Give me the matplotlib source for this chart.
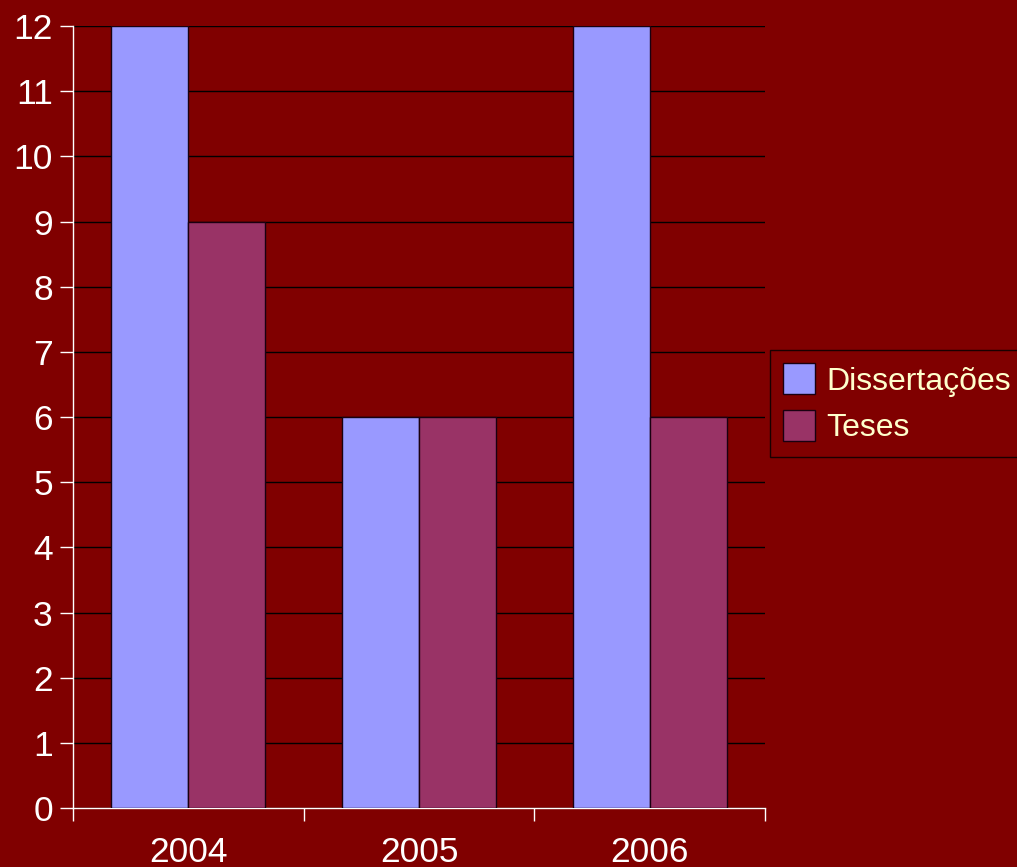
import numpy as np
import matplotlib.pyplot as plt

anos = ['2004', '2005', '2006']
dissertacoes = [12, 6, 12]
teses = [9, 6, 6]

bg = '#800000'
plt.rcParams['font.family'] = ['Liberation Sans', 'DejaVu Sans']

fig = plt.figure(figsize=(10.17, 8.67), dpi=100, facecolor=bg)
ax = fig.add_axes([73/1017, 59/867, 692/1017, 782/867])
ax.set_facecolor(bg)

x = np.arange(len(anos))
w = 1/3
ax.bar(x - w/2, dissertacoes, w, color='#9999FF', edgecolor='#1a0010', linewidth=1,
       label='Dissertações', zorder=3)
ax.bar(x + w/2, teses, w, color='#993366', edgecolor='#1a0010', linewidth=1,
       label='Teses', zorder=3)

ax.set_xlim(-0.5, 2.5)
ax.set_ylim(0, 12)
ax.set_yticks(range(0, 13))
ax.yaxis.grid(True, color='black', linewidth=1, zorder=0)
ax.set_axisbelow(True)

# category boundaries as major ticks, labels on minor ticks
ax.set_xticks([-0.5, 0.5, 1.5, 2.5])
ax.set_xticklabels([])
ax.set_xticks(x, minor=True)
ax.set_xticklabels(anos, minor=True)
ax.tick_params(axis='both', which='major', length=9.5, width=1, color='white',
               labelcolor='white', labelsize=25.5)
ax.tick_params(axis='y', pad=5)
ax.tick_params(axis='x', which='minor', length=0, pad=20,
               labelcolor='white', labelsize=25.5)

for s in ['top', 'right']:
    ax.spines[s].set_visible(False)
for s in ['left', 'bottom']:
    ax.spines[s].set_color('white')
    ax.spines[s].set_linewidth(1)

leg = ax.legend(loc='upper left', bbox_to_anchor=(770/1017, 1 - 350/867),
                bbox_transform=fig.transFigure, borderaxespad=0,
                fontsize=23, frameon=True, fancybox=False, facecolor=bg,
                edgecolor='black', handlelength=1.0, handleheight=1.1,
                handletextpad=0.35, labelspacing=0.42, borderpad=0.42)
leg.get_frame().set_linewidth(1)
for t in leg.get_texts():
    t.set_color('#FFFFCC')

fig.savefig('out.png', dpi=100, facecolor=bg)
